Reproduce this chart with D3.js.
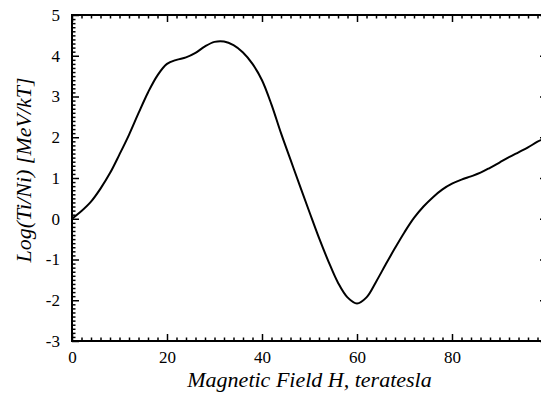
<!DOCTYPE html>
<html>
<head>
<meta charset="utf-8">
<script src="https://cdn.jsdelivr.net/npm/d3@7"></script>
<style>
  html, body { margin: 0; padding: 0; background: #fff; }
  svg { display: block; }
  svg text { font-family: 'Liberation Serif', 'Times New Roman', serif; }
</style>
</head>
<body>
<svg id="chart" width="541" height="396"></svg>
<script>
// Data
const fieldH = [0,2,4,6,8,10,12,14,16,18,20,22,24,26,28,30,32,34,36,38,40,42,44,46,48,50,52,54,56,58,60,62,64,66,68,70,72,74,76,78,80,82,84,86,88,90,92,94,96,98,100];
const logRatio = [0,0.19,0.42,0.74,1.12,1.58,2.06,2.59,3.10,3.52,3.80,3.90,3.96,4.07,4.23,4.34,4.35,4.26,4.08,3.80,3.40,2.80,2.10,1.45,0.80,0.16,-0.47,-1.05,-1.57,-1.93,-2.08,-1.93,-1.55,-1.13,-0.72,-0.33,0.02,0.30,0.53,0.72,0.86,0.96,1.04,1.13,1.25,1.38,1.51,1.63,1.75,1.89,2.0];
const xTicks = [0,20,40,60,80,100];
const yTicks = [-3,-2,-1,0,1,2,3,4,5];
const xLabel = "Magnetic Field H, teratesla";
const yLabel = "Log(Ti/Ni) [MeV/kT]";

const FONT = "'Liberation Serif', 'Times New Roman', serif";
const svg = d3.select("#chart");
const W = 541, H = 396;
const margin = {left: 72, top: 15, right: -6, bottom: 55};
const x0 = margin.left, x1 = W - margin.right; // plot extends slightly beyond canvas on the right
const y0 = margin.top, y1 = H - margin.bottom;

const x = d3.scaleLinear().domain([0, 100]).range([x0, x1]);
const y = d3.scaleLinear().domain([-3, 5]).range([y1, y0]);

const xMinor = d3.range(0, 100.001, 2).filter(v => v % 20 !== 0);
const yMinor = d3.range(-30, 51, 1).map(v => v / 10).filter(v => Math.abs(v - Math.round(v)) > 1e-6);

const axisStyle = g => {
  g.attr("font-family", FONT);
  g.select(".domain").remove();
  g.selectAll(".tick line").attr("stroke", "#000").attr("stroke-width", 1.5);
  g.selectAll("text").attr("font-family", FONT).attr("fill", "#000").attr("font-size", 17);
};

// Bottom axis
svg.append("g").attr("transform", `translate(0,${y1})`)
  .call(d3.axisBottom(x).tickValues(xTicks).tickSize(-7).tickPadding(10)
    .tickFormat(d => d === 100 ? "" : String(d)))
  .call(axisStyle);
svg.append("g").attr("transform", `translate(0,${y1})`)
  .call(d3.axisBottom(x).tickValues(xMinor).tickSize(-3.5).tickFormat(""))
  .call(axisStyle);
// Top axis
svg.append("g").attr("transform", `translate(0,${y0})`)
  .call(d3.axisTop(x).tickValues(xTicks).tickSize(-7).tickFormat(""))
  .call(axisStyle);
svg.append("g").attr("transform", `translate(0,${y0})`)
  .call(d3.axisTop(x).tickValues(xMinor).tickSize(-3.5).tickFormat(""))
  .call(axisStyle);
// Left axis
svg.append("g").attr("transform", `translate(${x0},0)`)
  .call(d3.axisLeft(y).tickValues(yTicks).tickSize(-7).tickPadding(12).tickFormat(d => String(d)))
  .call(axisStyle);
svg.append("g").attr("transform", `translate(${x0},0)`)
  .call(d3.axisLeft(y).tickValues(yMinor).tickSize(-3.5).tickFormat(""))
  .call(axisStyle);
// Right axis
svg.append("g").attr("transform", `translate(${x1},0)`)
  .call(d3.axisRight(y).tickValues(yTicks).tickSize(-7).tickFormat(""))
  .call(axisStyle);

// Frame
svg.append("rect")
  .attr("x", x0).attr("y", y0)
  .attr("width", x1 - x0).attr("height", y1 - y0)
  .attr("fill", "none").attr("stroke", "#000").attr("stroke-width", 2);

// Curve
const pts = fieldH.map((h, i) => [h, logRatio[i]]);
svg.append("path")
  .datum(pts)
  .attr("fill", "none")
  .attr("stroke", "#000")
  .attr("stroke-width", 2)
  .attr("stroke-linejoin", "round")
  .attr("d", d3.line().x(d => x(d[0])).y(d => y(d[1])).curve(d3.curveCatmullRom.alpha(0.5)));

// Axis titles
svg.append("text")
  .attr("x", (x0 + x1) / 2).attr("y", 387)
  .attr("text-anchor", "middle")
  .attr("font-family", FONT)
  .attr("font-size", 22).attr("font-style", "italic").attr("fill", "#000")
  .text(xLabel);
svg.append("text")
  .attr("transform", `translate(31,170) rotate(-90)`)
  .attr("text-anchor", "middle")
  .attr("font-family", FONT)
  .attr("font-size", 22).attr("font-style", "italic").attr("fill", "#000")
  .text(yLabel);
</script>
</body>
</html>
